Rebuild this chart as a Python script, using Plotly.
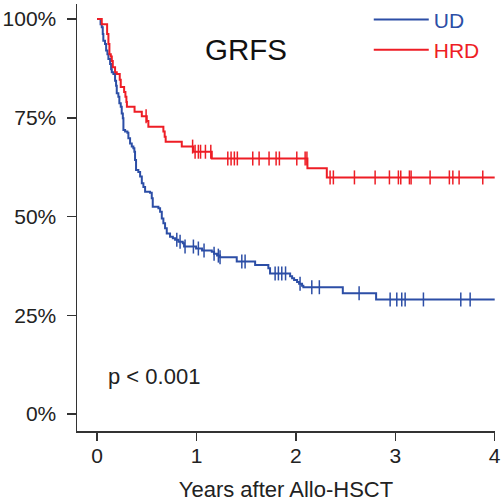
import numpy as np
import plotly.graph_objects as go

# ---- data ----
ud_times = [0.035, 0.047, 0.057, 0.063, 0.080, 0.091, 0.104, 0.114, 0.131, 0.141, 0.148, 0.164,
            0.181, 0.191, 0.198, 0.214, 0.224, 0.238, 0.248, 0.259, 0.265, 0.282, 0.305, 0.315,
            0.332, 0.349, 0.365, 0.375, 0.382, 0.392, 0.415, 0.433, 0.450, 0.466, 0.483, 0.533,
            0.550, 0.560, 0.617, 0.634, 0.651, 0.667, 0.684, 0.701, 0.734, 0.762, 0.785, 0.818,
            0.862, 0.875, 0.996, 1.056, 1.154, 1.177, 1.207, 1.237, 1.405, 1.590, 1.723, 1.740,
            1.942, 1.962, 1.982, 2.012, 2.032, 2.062, 2.075, 2.472, 2.807]
ud_surv = [0.987, 0.979, 0.962, 0.945, 0.937, 0.920, 0.911, 0.899, 0.886, 0.873, 0.865, 0.861,
           0.844, 0.831, 0.812, 0.803, 0.787, 0.778, 0.761, 0.749, 0.719, 0.715, 0.712, 0.698,
           0.685, 0.677, 0.673, 0.664, 0.643, 0.618, 0.613, 0.601, 0.584, 0.575, 0.563, 0.560,
           0.546, 0.525, 0.521, 0.512, 0.495, 0.483, 0.470, 0.457, 0.449, 0.445, 0.441, 0.436,
           0.432, 0.424, 0.419, 0.414, 0.411, 0.406, 0.401, 0.397, 0.386, 0.377, 0.369, 0.356,
           0.349, 0.344, 0.339, 0.334, 0.330, 0.325, 0.321, 0.306, 0.290]
ud_censor = [0.802, 0.835, 0.885, 0.969, 1.019, 1.076, 1.177, 1.220, 1.237, 1.456, 1.489,
             1.791, 1.824, 1.858, 1.896, 2.042, 2.160, 2.236, 2.636, 2.948, 3.015, 3.065,
             3.099, 3.283, 3.659, 3.753]

hrd_times = [0.047, 0.101, 0.114, 0.124, 0.138, 0.148, 0.158, 0.181, 0.198, 0.228, 0.238,
             0.272, 0.285, 0.295, 0.300, 0.377, 0.450, 0.500, 0.516, 0.667, 0.680, 0.690,
             0.852, 0.969, 1.154, 2.116, 2.311]
hrd_surv = [0.987, 0.962, 0.937, 0.911, 0.905, 0.894, 0.878, 0.865, 0.861, 0.846, 0.828,
            0.815, 0.803, 0.790, 0.778, 0.765, 0.754, 0.742, 0.727, 0.715, 0.702, 0.689,
            0.677, 0.664, 0.647, 0.622, 0.599]
hrd_censor = [0.493, 0.961, 0.986, 1.019, 1.041, 1.090, 1.144, 1.315, 1.348, 1.381, 1.411,
              1.566, 1.630, 1.730, 1.801, 1.834, 2.009, 2.093, 2.111, 2.344, 2.377, 2.589,
              2.797, 2.941, 3.031, 3.055, 3.142, 3.159, 3.350, 3.544, 3.579, 3.642, 3.880]

follow_end = 4.0
x_ticks = [0, 1, 2, 3, 4]
y_ticks = [0, 0.25, 0.5, 0.75, 1.0]
y_ticktext = ["0%", "25%", "50%", "75%", "100%"]

BLUE = "#2C4EA6"
RED = "#EE1D25"
FONT = "Liberation Sans, Arial, sans-serif"


def step_xy(times, surv):
    xs = [0.0] + list(times) + [follow_end]
    ys = [1.0] + list(surv) + [surv[-1]]
    return xs, ys


def censor_y(times, surv, ct):
    t = np.asarray(times)
    s = np.concatenate([[1.0], np.asarray(surv)])
    idx = np.searchsorted(t, np.asarray(ct), side="right")
    return s[idx]


fig = go.Figure()
for name, times, surv, cens, col in [("UD", ud_times, ud_surv, ud_censor, BLUE),
                                     ("HRD", hrd_times, hrd_surv, hrd_censor, RED)]:
    xs, ys = step_xy(times, surv)
    fig.add_trace(go.Scatter(x=xs, y=ys, mode="lines", line=dict(color=col, width=2, shape="hv"),
                             name=f"<span style='color:{col}'>{name}</span>", showlegend=True))
    fig.add_trace(go.Scatter(x=cens, y=censor_y(times, surv, cens), mode="markers",
                             marker=dict(symbol="line-ns", size=10, line=dict(color=col, width=1.5)),
                             showlegend=False, hoverinfo="skip", cliponaxis=False))

fig.add_annotation(x=1.5, y=0.924, xref="x", yref="y", text="GRFS", showarrow=False,
                   font=dict(family=FONT, size=29.5, color="#111111"), xanchor="center", yanchor="middle")
fig.add_annotation(x=0.09, y=0.096, xref="x", yref="y", text="p < 0.001", showarrow=False,
                   font=dict(family=FONT, size=22, color="#222222"), xanchor="left", yanchor="middle")

fig.update_layout(
    width=502, height=503,
    margin=dict(l=77, r=7, t=4, b=72, autoexpand=False),
    paper_bgcolor="white", plot_bgcolor="white",
    font=dict(family=FONT, size=21, color="#222222"),
    legend=dict(x=0.698, y=1.011, xanchor="left", yanchor="top", bgcolor="rgba(0,0,0,0)",
                font=dict(family=FONT, size=21), itemwidth=55, tracegroupgap=0),
    xaxis=dict(range=[-0.202, 4.003], tickvals=x_ticks, showgrid=False, zeroline=False,
               showline=True, linecolor="#333333", linewidth=1.5, ticks="outside", ticklen=8,
               tickwidth=1.5, tickcolor="#333333", automargin=False, ticklabelstandoff=-3,
               title=dict(text="Years after Allo-HSCT", font=dict(family=FONT, size=22), standoff=16)),
    yaxis=dict(range=[-0.043, 1.038], tickvals=y_ticks, ticktext=y_ticktext, showgrid=False,
               zeroline=False, showline=True, linecolor="#333333", linewidth=1.5, ticks="outside",
               ticklen=9, tickwidth=1.5, tickcolor="#333333", automargin=False,
               ticklabelstandoff=6),
)

# remove the browser's default 8px body margin so the figure sits at the page origin
fig.write_html("out.html", config={"displayModeBar": False, "staticPlot": True},
               post_script="document.body.style.margin='0';document.body.style.overflow='hidden';")
